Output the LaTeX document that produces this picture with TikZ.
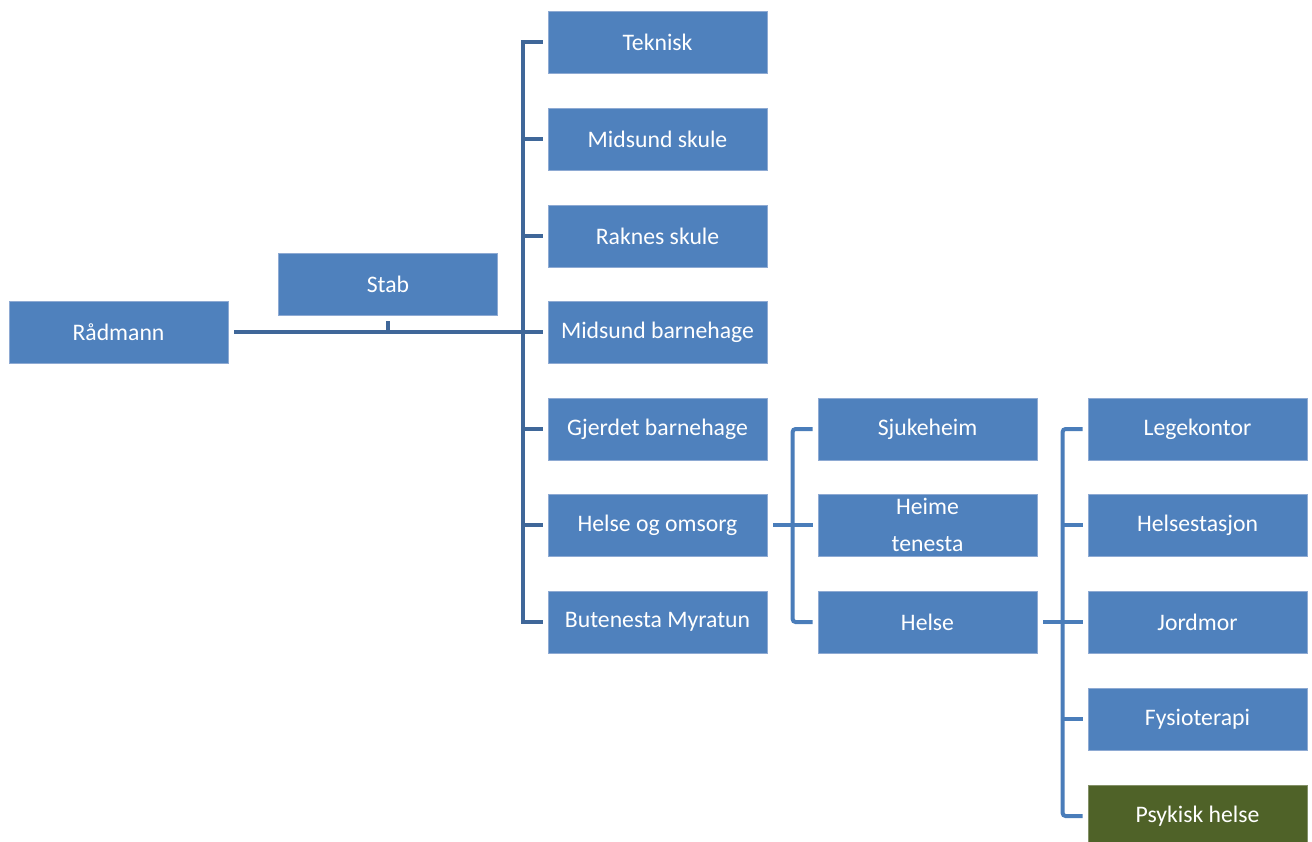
\documentclass[tikz,border=0pt]{standalone}
\usepackage{fontspec}
\setmainfont{Carlito}
\definecolor{boxblue}{HTML}{4F81BD}
\definecolor{boxedge}{HTML}{8EAAD3}
\definecolor{boxgreen}{HTML}{4F6228}
\definecolor{connA}{HTML}{3F6799}
\definecolor{connB}{HTML}{4A7DBA}
\tikzset{
  orgbox/.style={rectangle, fill=boxblue, draw=boxedge, line width=0.8bp, minimum width=219bp, minimum height=62bp, inner sep=2bp, text=white, font=\fontsize{23.7bp}{28bp}\selectfont, align=center},
  greenbox/.style={orgbox, fill=boxgreen, draw=boxgreen!70!white},
  connmain/.style={draw=connA, line width=4bp},
  connsub/.style={draw=connB, line width=4bp, rounded corners=3bp}
}
\begin{document}
\begin{tikzpicture}[x=1bp,y=-1bp]
\useasboundingbox (0,0) rectangle (1312,841);
\begin{scope}
\clip (0,0) rectangle (1312,841);
% nodes
\node[orgbox] (r) at (118.5,332) {Rådmann};
\node[orgbox] (s) at (388,284) {Stab};
\node[orgbox] (a1) at (657.5,42) {Teknisk};
\node[orgbox] (a2) at (657.5,139) {Midsund skule};
\node[orgbox] (a3) at (657.5,236) {Raknes skule};
\node[orgbox] (a4) at (657.5,332) {Midsund barnehage};
\node[orgbox] (a5) at (657.5,429) {Gjerdet barnehage};
\node[orgbox] (a6) at (657.5,525) {Helse og omsorg};
\node[orgbox] (a7) at (657.5,622) {Butenesta Myratun};
\node[orgbox] (b1) at (927.5,429) {Sjukeheim};
\node[orgbox, font=\fontsize{23.7bp}{37bp}\selectfont] (b2) at (927.5,525) {Heime\\tenesta};
\node[orgbox] (b3) at (927.5,622) {Helse};
\node[orgbox] (c1) at (1197.5,429) {Legekontor};
\node[orgbox] (c2) at (1197.5,525) {Helsestasjon};
\node[orgbox] (c3) at (1197.5,622) {Jordmor};
\node[orgbox] (c4) at (1197.5,719) {Fysioterapi};
\node[greenbox] (c5) at (1197.5,816) {Psykisk helse};
% main connectors
\coordinate (ta) at ([xshift=-25bp]a1.west);
\draw[connmain] ([xshift=6bp]r.east) -- ([xshift=-5bp]a4.west);
\draw[connmain] ([yshift=-6bp]s.south) -- (s.south |- r.east);
\draw[connmain] ([xshift=-5bp]a1.west) -- (ta) -- (ta |- a7.west) -- ([xshift=-5bp]a7.west);
\foreach \n in {a2,a3,a5,a6} {
  \draw[connmain] (ta |- \n.west) -- ([xshift=-5bp]\n.west);
}
% Helse og omsorg connectors
\coordinate (tb) at ([xshift=-25bp]b1.west);
\draw[connsub] ([xshift=6bp]a6.east) -- ([xshift=-5bp]b2.west);
\draw[connsub] ([xshift=-5bp]b1.west) -- (tb) -- (tb |- b3.west) -- ([xshift=-5bp]b3.west);
% Helse connectors
\coordinate (tc) at ([xshift=-25bp]c1.west);
\draw[connsub] ([xshift=6bp]b3.east) -- ([xshift=-5bp]c3.west);
\draw[connsub] ([xshift=-5bp]c1.west) -- (tc) -- (tc |- c5.west) -- ([xshift=-5bp]c5.west);
\foreach \n in {c2,c4} {
  \draw[connsub] (tc |- \n.west) -- ([xshift=-5bp]\n.west);
}
\end{scope}
\end{tikzpicture}
\end{document}
